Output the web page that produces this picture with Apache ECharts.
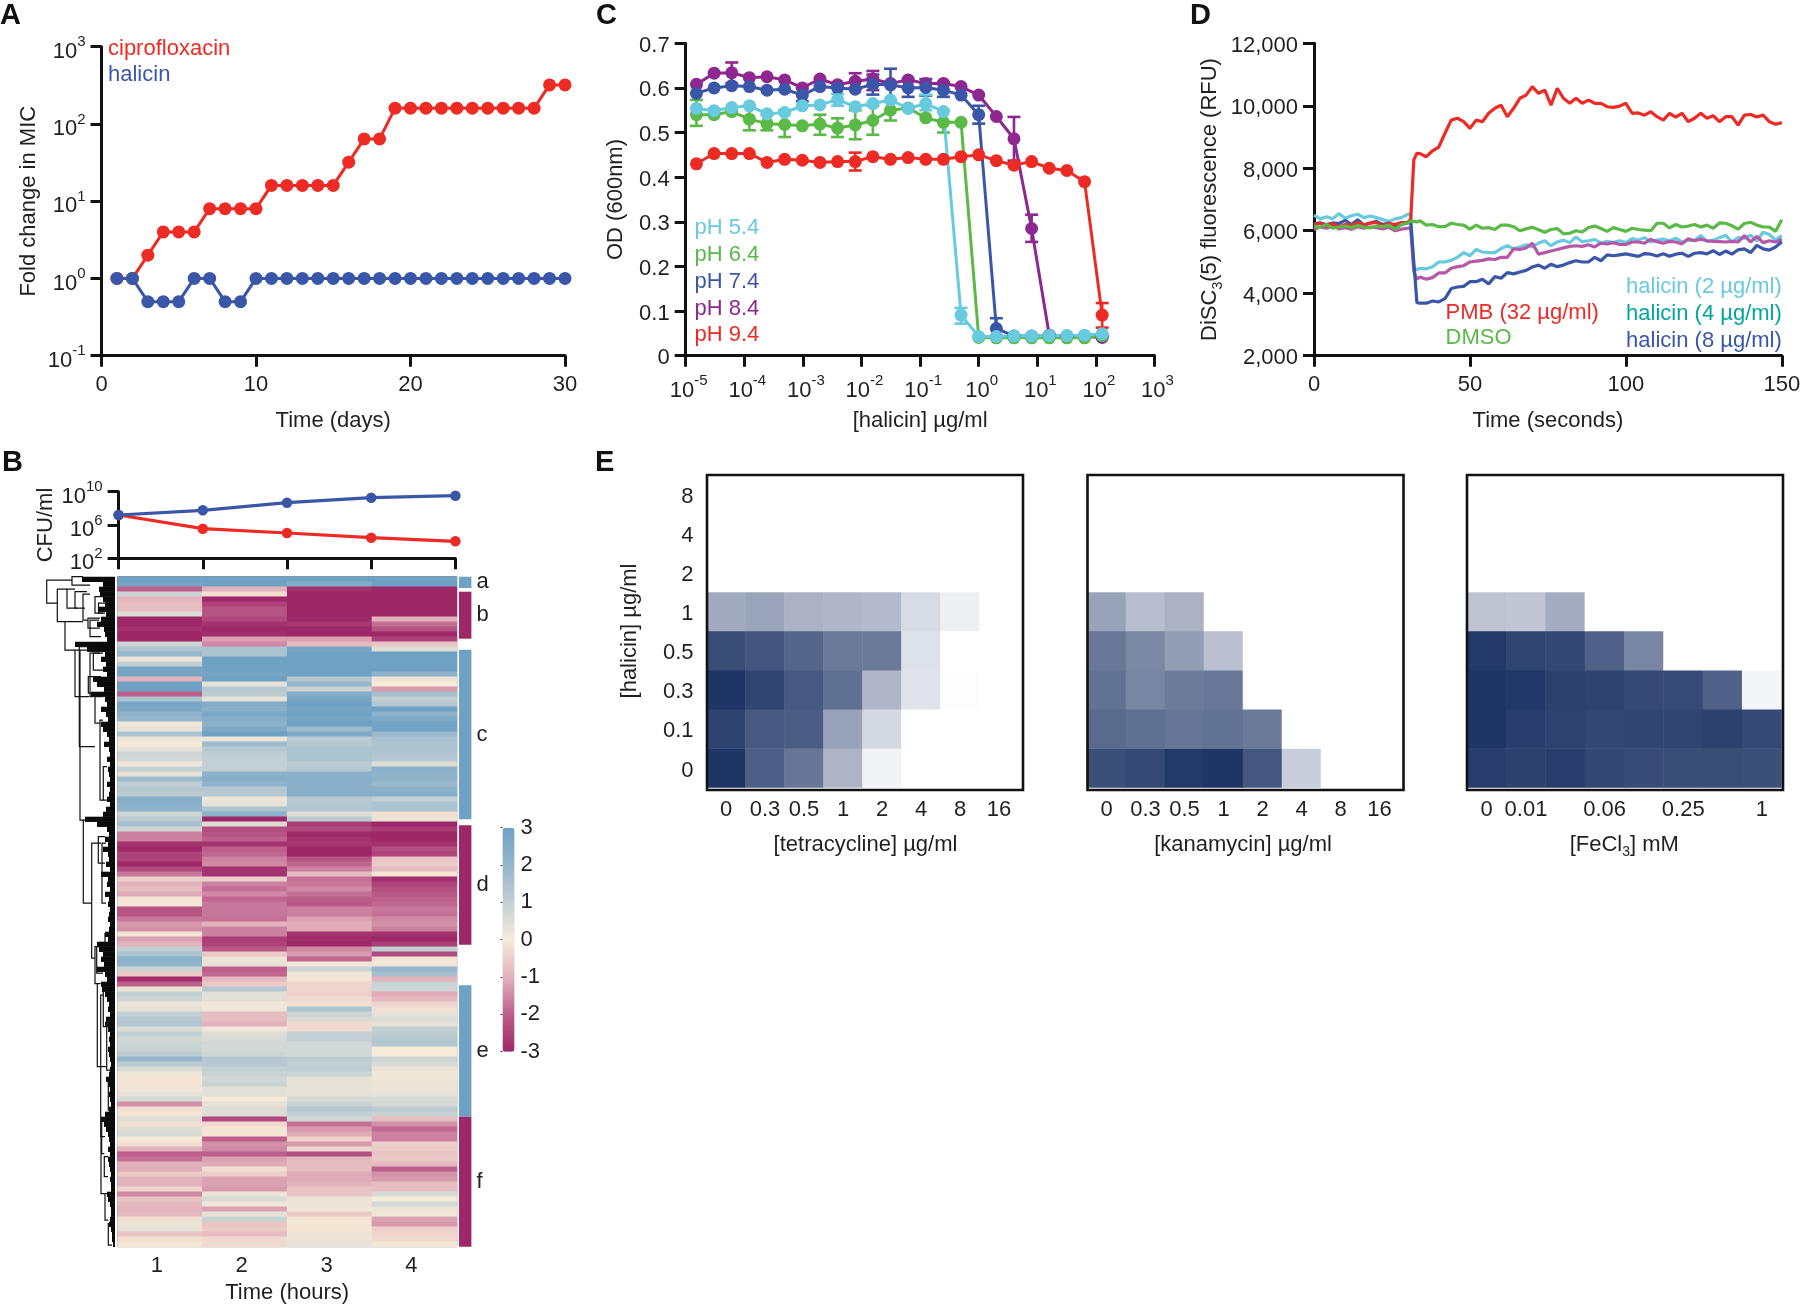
<!DOCTYPE html>
<html><head><meta charset="utf-8">
<style>html,body{margin:0;padding:0;background:#fff}#c{width:1800px;height:1305px}</style>
<script src="https://cdn.jsdelivr.net/npm/echarts@6/dist/echarts.min.js"></script>
</head><body><div id="c"></div>
<script>
// ---------- Panel A ----------
const days=[1,2,3,4,5,6,7,8,9,10,11,12,13,14,15,16,17,18,19,20,21,22,23,24,25,26,27,28,29,30];
const ciproFold=[1,1,2,4,4,4,8,8,8,8,16,16,16,16,16,32,64,64,160,160,160,160,160,160,160,160,160,160,320,320];
const halicinFold=[1,1,0.5,0.5,0.5,1,1,0.5,0.5,1,1,1,1,1,1,1,1,1,1,1,1,1,1,1,1,1,1,1,1,1];
// ---------- Panel B top ----------
const cfuHours=[1,2,3,4,5];
const cfuBlue=[1.6e7,5.8e7,4.8e8,1.9e9,3.3e9];
const cfuRed=[1.6e7,3.6e5,1.1e5,3e4,1.1e4];
// ---------- Panel B heatmap ----------
const heatHours=['1','2','3','4'];
const hour1=[3,2.8,-2,0.8,-1,-0.8,-0.8,0.5,-3,-3,-2.8,-3,-3,0.8,1.5,2,0.2,1,2.8,2.8,-1,3,3,-2,1.5,2.8,2.6,2.2,2,0.1,0.3,1.5,0.2,0,
.3,.8,.7,.1,1,.3,1.8,1.1,1.3,1.2,2.4,2.3,2.2,.8,1.2,1.6,.8,-1.6,-1.6,-2.8,-3,-2.5,-2.5,-3,-2.4,-1.7,-.5,-1,-.8,-1.1,-.1,-.1,-2.2,-2.2,
-1.7,-1.3,-1.4,-.1,-1.2,-1,1,1.5,2.3,2.1,.8,-.6,-2.9,-2,.2,1,.8,.2,.3,1,1.3,1.4,.5,1,.7,.8,.9,1.1,2,1.2,.6,.1,-.1,
-.1,.1,.3,.6,-1.4,-.2,-.1,.5,-.2,.5,.6,0,-.2,-1,-2,-1.8,-1,-1.1,-.6,-1,-1,-.4,-1.5,-.7,-.9,-1,-.9,-.2,.2,.3,-.7,-.2,-.1];
const hour2=[3,3,-1,-0.2,-3,-2.5,-2.2,-2.2,-2.4,-2.8,-3,-2.9,-1.2,-1.5,1.5,1.5,3,3,3,2.8,3,0.3,1.3,1.2,0.3,2.5,2.3,2.7,2.4,2.2,2.6,3,0.2,1.8,
1.3,1.1,1,1,1,2.2,2.4,2.1,1.3,1.3,.2,.3,1.5,2.2,-3,.5,-2.3,-2.2,-2,-2.8,-2,-1.9,-1.6,-1.5,-2.8,-2.8,-.5,-1.6,-1.8,-1.5,-1.9,-1.7,-1.7,-1.7,
-1.8,-1,-1.6,-1.6,-2.6,-2.5,-2.1,-.6,.2,.3,-2,-1.9,-.9,-.6,1.3,.4,.4,.1,.1,-.8,-.8,-1,.1,.5,.6,.7,.7,.8,1.3,1.3,1,.9,.7,
.9,.4,.4,0,.3,.5,.5,-2.4,-.3,-.1,-.1,-2,-1.4,-1.5,-2,-1.2,-1.1,-.2,-.5,-1.2,-1.2,-1.3,.2,.6,.1,-1.2,.3,.9,-.7,-.6,-.8,-.3,-.3];
const hour3=[3,2.5,-2.8,-3,-3,-3,-3,-3,-3,-2.7,-3,-3,-1.2,-.9,2.8,3,3,3,3,3,1.3,2,.8,2.5,2.7,3,2.8,3,2.8,3,1.8,2.6,1.2,1.3,
1.5,1.5,1.5,1.2,1.3,2.2,2.3,2.3,2.3,2.4,1.3,1.3,1.4,.5,1.2,-2.6,-2.4,-3,-2.8,-2.7,-3,-3,-2.2,-1.9,-1.6,-.9,-1.8,-1.7,-1.5,-1.8,-2,-2.1,-1.6,-1.6,
-1.2,-1.1,-1.1,-2.8,-2.9,-3,-1.5,-1.3,-1.9,.1,.8,.1,-.1,-.4,-.4,-.5,-.3,-.2,1.5,.8,.6,-.3,-.3,1,1,.7,.7,.7,1.2,1,1.1,.8,.3,
.3,.3,.3,.6,.9,1.3,1,.7,-1.8,-1.3,-1.1,-.4,-1.3,-.4,-2.3,-.9,-.8,-.8,-1.1,-1.1,-1,-.7,-.7,.2,.2,.1,-.6,-.1,-.1,-.1,.2,.2,.3];
const hour4=[3,3,-3,-3,-3,-3,-3,-3,-1,-1.8,-2.2,-3,-2.5,-.7,.5,3,3,3,3,2.2,.2,0,-1.3,1.6,1,1.3,3,2.2,2.6,2.9,2.9,1.8,1.6,1.5,
1.5,1.4,1.3,.5,2.3,2.1,2.2,1.9,2.3,2.4,1,1.5,1.5,-.2,.2,-3,-2.6,-3,-3,-2.8,-2.3,-2.5,-.7,-.6,-.8,-.1,-2.9,-2.5,-2.3,-2.1,-2,-1.9,-1.7,-1.8,
-1.5,-1.4,-1.6,-2.8,-3,-2.6,1,-2.4,-.1,.1,2,1.6,-1,.9,.8,-1.1,-.9,-.4,-.2,.3,.5,.3,1,1.1,1.3,1.4,0,0,.8,.6,.2,.1,.1,
.2,.2,.3,.6,.7,1.2,.9,-.8,-1.4,-1.9,-1.6,-1.6,-.5,-.6,-.7,-.6,-.9,-2,-1.4,-1.3,-.8,-.8,.6,0,.7,.2,.1,-1.2,-1.3,-.5,-.4,-.3,-.1];
const clusterNames=['a','b','c','d','e','f'];
const clusterStart=[0,3,14.6,49.7,81.7,108];
const clusterEnd=[2.26,12.4,48.5,73.6,108,134];
const clusterSign=[1,-1,1,-1,1,-1];
// dendrogram: [height, rowTop, rowBottom, childHeightTop, childHeightBottom]
const dendroBranches=[[68.3,.7,5.3,43,57.7],[43,0,1.7,32,25],[57.7,2.5,9,48,50],[48,2.5,6.3,40,38],[50,9,14.7,32,40],[40,3,6.3,28,30],[32,3.5,8.7,25,27],[27,8.3,10.3,15,15],[25,8.7,12,16,14],[20,4,7.3,12,12],[16.5,5.3,7.3,10,10],
[40,14.7,24,35.7,26],[35.7,14,34,25,20],[35,14.7,48.7,25,31.7],[31.7,48.7,65.3,10,23.3],[23.3,53.3,76.3,14,20],[25,15.3,24,15,22],[20,24,29.3,12,15],[15,28.7,44.7,12,11.7],[11.7,38,44.7,8,8],[21.7,15.3,18.7,12,12],[26.7,20,23.3,14,14],[16.7,52,57.3,10,10],[13,53.3,65.3,9,9],
[20,74,81.4,13,17.7],[17.7,81.4,98,14.3,8.3],[14.3,83.7,112,11.7,13.3],[11.7,82.7,90,7,7],[13.3,108.4,115.4,9,10.7],[10.7,116,120,7,7],[10,123.4,128.7,6,6.7],[6.7,129.4,133.7,4,3],[8.3,88.7,98.7,5,5],[6.7,100.7,106.7,4,4],[18.3,74,79.3,12,12],[10,71.4,74,7,7],[14,112,123.4,10,10]];
const leafDepth=[33,12,16,15,12,10,16,9,14,18,11,10,8,40,28,10,14,9,12,8,22,18,11,24,10,8,14,9,7,14,12,8,6,11,6,5,8,5,7,6,5,8,5,6,8,5,9,12,30,18,8,6,10,7,12,7,6,9,5,14,7,8,5,10,6,7,5,6,7,5,6,10,7,18,16,12,14,11,18,10,8,14,13,10,8,6,7,5,9,10,7,5,6,5,7,6,5,4,5,6,9,7,5,6,5,4,6,10,14,11,9,7,6,5,7,5,7,6,5,4,5,4,4,8,7,5,4,4,5,6,4,3,3,2];
// ---------- Panel C ----------
const doses=[1.526e-5,3.052e-5,6.104e-5,1.221e-4,2.441e-4,4.883e-4,9.766e-4,1.953e-3,3.906e-3,7.813e-3,1.563e-2,3.125e-2,6.25e-2,0.125,0.25,0.5,1,2,4,8,16,32,64,128];
const ph94=[.43,.453,.453,.453,.433,.44,.438,.433,.435,.435,.446,.44,.444,.44,.44,.446,.45,.437,.427,.435,.42,.415,.39,.091];
const ph84=[.608,.633,.634,.623,.625,.618,.6,.62,.607,.615,.62,.61,.618,.61,.61,.603,.584,.536,.486,.285,.046,.043,.043,.041];
const ph74=[.588,.6,.605,.603,.595,.597,.584,.603,.6,.597,.608,.607,.6,.601,.595,.584,.54,.061,.044,.044,.044,.044,.044,.044];
const ph64=[.54,.54,.547,.53,.52,.518,.515,.519,.51,.517,.527,.55,.555,.533,.523,.523,.041,.04,.04,.04,.04,.04,.04,.045];
const ph54=[.554,.549,.556,.56,.542,.545,.56,.562,.574,.558,.565,.573,.554,.565,.547,.091,.043,.043,.044,.044,.045,.045,.046,.049];
// error bars: [dose index, low, high]
const err94=[[9,.415,.455],[23,.063,.118]];
const err84=[[2,.61,.657],[9,.6,.633],[10,.595,.638],[18,.437,.535],[19,.255,.316]];
const err74=[[6,.57,.6],[10,.585,.63],[11,.57,.643],[12,.58,.62],[13,.583,.62],[14,.58,.612],[16,.52,.56],[17,.045,.084]];
const err64=[[0,.515,.573],[3,.505,.56],[4,.505,.54],[5,.49,.55],[7,.495,.54],[8,.49,.532],[9,.485,.55],[10,.495,.56],[11,.527,.57],[14,.5,.55]];
const err54=[[8,.56,.587],[13,.55,.585],[15,.072,.107]];
// ---------- Panel D ----------
const seconds=[0,2,4,6,8,10,12,14,16,18,20,22,24,26,28,30,31,32,33,34,
36,38,40,42,44,46,48,50,52,54,56,58,60,62,64,66,68,70,72,74,76,78,80,82,84,86,88,90,92,94,96,98,100,
102,104,106,108,110,112,114,116,118,120,122,124,126,128,130,132,134,136,138,140,142,144,146,148,150];
const pmb=[6180,6250,6150,6230,6120,6200,6180,6260,6190,6240,6270,6160,6230,6200,6260,6270,6350,8270,8480,8470,
8370,8560,8680,9120,9540,9600,9490,9280,9540,9490,9760,9920,10020,9650,9920,10240,10340,10610,10400,10500,10020,10560,10240,10080,10240,10080,10180,10080,10080,9970,9950,9990,10080,
9760,9770,9700,9810,9650,9540,9760,9640,9760,9490,9600,9760,9600,9680,9490,9650,9650,9380,9700,9720,9640,9700,9490,9410,9460];
const dmso=[6150,6100,6200,6080,6120,6150,6100,6170,6120,6090,6150,6130,6180,6050,6200,6250,6310,6300,6280,6320,
6180,6200,6130,6130,6240,6200,6180,6050,6180,6080,6100,6040,6180,6180,6130,6000,6060,6110,6030,5950,6040,6070,5900,5920,6000,5960,6100,6150,6070,5980,6100,6040,5980,
6080,6040,6020,6000,6240,6240,6090,6200,6120,6150,6200,6120,6180,6080,6250,6240,6160,6050,6230,6270,6180,6120,6120,5980,6350];
const hal2=[6500,6380,6450,6380,6550,6400,6480,6530,6420,6470,6420,6360,6300,6380,6420,6520,6550,4800,4750,4800,
4780,4850,5000,5000,5050,5150,5300,5200,5400,5320,5300,5300,5430,5520,5420,5480,5550,5480,5600,5680,5520,5640,5700,5620,5800,5650,5680,5720,5600,5660,5620,5680,5620,
5750,5700,5780,5640,5700,5730,5680,5760,5640,5700,5690,5850,5650,5700,5780,5850,5640,5780,5760,5860,5680,5950,5880,5700,5850];
const hal4=[6050,6120,6080,6150,6060,6100,6050,6130,6080,6120,6100,6060,6110,6000,6050,6080,6100,4700,4450,4520,
4450,4500,4650,4650,4800,4850,4880,5000,5030,5050,5100,5080,5150,5150,5420,5400,5450,5600,5250,5300,5350,5400,5450,5500,5520,5500,5550,5480,5600,5580,5620,5560,5560,
5640,5640,5600,5720,5650,5600,5660,5640,5580,5740,5680,5730,5680,5660,5650,5640,5660,5640,5840,5640,5820,5620,5680,5640,5730];
const hal8=[6220,6250,6200,6250,6230,6330,6200,6350,6180,6250,6300,6200,6250,6100,6200,6250,6280,5000,3700,3680,
3680,3750,3720,3830,4150,4200,4220,4370,4370,4450,4300,4530,4480,4660,4620,4680,4730,4840,4900,4800,4930,4850,4900,4980,5040,5000,5000,5150,5040,5230,5200,5230,5260,
5220,5180,5270,5250,5190,5260,5180,5250,5280,5180,5280,5300,5260,5360,5240,5350,5250,5390,5420,5300,5530,5420,5380,5480,5650];
// ---------- Panel E (rows from halicin 0 upward) ----------
const halicinLevels=['0','0.1','0.3','0.5','1','2','4','8'];
const tetLabels=['0','0.3','0.5','1','2','4','8','16'];
const kanLabels=['0','0.3','0.5','1','2','4','8','16'];
const feLabels=['0','0.01','','0.06','','0.25','','1'];
const tetGrowth=[[1,.79,.68,.37,.06,0,0,0],[.93,.82,.8,.46,.19,0,0,0],[1,.92,.82,.71,.36,.14,.01,0],[.88,.84,.76,.66,.66,.15,0,0],[.42,.45,.38,.36,.34,.18,.08,0],[0,0,0,0,0,0,0,0],[0,0,0,0,0,0,0,0],[0,0,0,0,0,0,0,0]];
const kanGrowth=[[.87,.9,.98,1,.83,.25,0,0],[.74,.71,.68,.7,.66,0,0,0],[.7,.6,.65,.67,0,0,0,0],[.67,.59,.48,.31,0,0,0,0],[.46,.32,.38,0,0,0,0,0],[0,0,0,0,0,0,0,0],[0,0,0,0,0,0,0,0],[0,0,0,0,0,0,0,0]];
const feGrowth=[[.96,.94,.96,.91,.89,.88,.88,.87],[1,.96,.93,.91,.92,.92,.94,.9],[1,.99,.94,.93,.9,.89,.78,.05],[.98,.92,.91,.78,.6,0,0,0],[.29,.28,.41,0,0,0,0,0],[0,0,0,0,0,0,0,0],[0,0,0,0,0,0,0,0],[0,0,0,0,0,0,0,0]];

const FONT='"Liberation Sans",Arial,sans-serif', INK='#231f20';
const RED='#ee2a24',BLUE='#3a56a8',GREEN='#5ab947',SKY='#67cadf',PURPLE='#8e278f',MAG='#b657a8',TEAL='#00a79d';
const richSup={b:{fontSize:22,color:INK,fontFamily:FONT,lineHeight:28,verticalAlign:'bottom'},s:{fontSize:15,color:INK,fontFamily:FONT,lineHeight:28,verticalAlign:'top'}};
const powLabel=v=>'{b|10}{s|'+Math.round(Math.log10(v))+'}';
const lbl=(m,pad)=>({color:INK,fontFamily:FONT,fontSize:22,margin:m===undefined?16:m,hideOverlap:false,showMinLabel:true,showMaxLabel:true,padding:pad||[0,0,0,0]});
const Y_PAD=[4,0,0,0];
const lowered=(o)=>Object.assign(o,{padding:[0,0,0,0],verticalAlign:'top',lineHeight:5});
const axisBase=()=>({axisLine:{show:true,onZero:false,lineStyle:{color:'#111',width:3}},axisTick:{show:true,length:11,inside:false,lineStyle:{color:'#111',width:3}},minorTick:{show:false},splitLine:{show:false},minorSplitLine:{show:false},
 nameLocation:'middle',nameTextStyle:{color:INK,fontFamily:FONT,fontSize:22}});
const hiddenAxis=(o)=>Object.assign({show:false,splitLine:{show:false},axisLine:{show:false},axisTick:{show:false},axisLabel:{show:false}},o);

const grids=[
 {left:101.5,top:46.7,width:463.5,height:309},   //0 A
 {left:685.7,top:43.3,width:468.8,height:312.4}, //1 C
 {left:1314,top:43.3,width:467.8,height:312.4},  //2 D
 {left:118.6,top:491.7,width:336.8,height:66.6}, //3 B top
 {left:117.5,top:576.7,width:339.3,height:670,show:true,borderColor:'#777',borderWidth:1,backgroundColor:'transparent'}, //4 heat
 {left:459,top:576.7,width:12.4,height:670},     //5 clusters
 {left:45,top:576.7,width:70,height:670},        //6 dendro
 {left:502.5,top:827.7,width:12,height:224},     //7 colorbar
 {left:706.5,top:474.5,width:312,height:313},    //8 tet
 {left:1087,top:474.5,width:312,height:313},     //9 kan
 {left:1467,top:474.5,width:314.5,height:313}    //10 fe
].map(g=>Object.assign(g,{outerBoundsMode:'none',containLabel:false}));
const xAxes=[
 Object.assign(axisBase(),{gridIndex:0,type:'value',min:0,max:30,interval:10,name:'Time (days)',nameGap:54,axisLabel:lbl(18)}),
 Object.assign(axisBase(),{gridIndex:1,type:'log',logBase:10,min:1e-5,max:1e3,name:'[halicin] µg/ml',nameGap:54,axisLabel:Object.assign(lbl(18,[0,0,0,6]),{formatter:powLabel,rich:richSup})}),
 Object.assign(axisBase(),{gridIndex:2,type:'value',min:0,max:150,interval:50,name:'Time (seconds)',nameGap:54,axisLabel:lbl(18)}),
 Object.assign(axisBase(),{gridIndex:3,type:'value',min:1,max:5,interval:1,axisLabel:{show:false}}),
 {gridIndex:4,type:'category',data:heatHours,position:'bottom',axisLine:{show:false},axisTick:{show:false},splitLine:{show:false},axisLabel:lbl(8,[0,6,0,0]),name:'Time (hours)',nameLocation:'middle',nameGap:35,nameTextStyle:{color:INK,fontFamily:FONT,fontSize:22}},
 hiddenAxis({gridIndex:5,type:'value',min:0,max:1}),
 hiddenAxis({gridIndex:6,type:'value',min:0,max:70,inverse:true}),
 hiddenAxis({gridIndex:7,type:'value',min:0,max:1}),
];
const yAxes=[
 Object.assign(axisBase(),{gridIndex:0,type:'log',logBase:10,min:0.1,max:1000,name:'Fold change in MIC',nameGap:62,axisLabel:Object.assign(lbl(16,Y_PAD),{formatter:powLabel,rich:richSup})}),
 Object.assign(axisBase(),{gridIndex:1,type:'value',min:0,max:0.7,interval:0.1,name:'OD (600nm)',nameGap:59,axisLabel:lowered(lbl(16))}),
 Object.assign(axisBase(),{gridIndex:2,type:'value',min:2000,max:12000,interval:2000,name:'{n|DiSC}{s|3}{n|(5) fluorescence (RFU)}',nameGap:89,nameTextStyle:{rich:{n:{fontSize:22,color:INK,fontFamily:FONT,lineHeight:26,verticalAlign:'top'},s:{fontSize:14,color:INK,fontFamily:FONT,lineHeight:26,verticalAlign:'bottom'}}},axisLabel:Object.assign(lowered(lbl(16)),{formatter:v=>v.toLocaleString('en-US')})}),
 Object.assign(axisBase(),{gridIndex:3,type:'log',logBase:10,min:1e2,max:1e10,interval:4,name:'CFU/ml',nameGap:62,axisLabel:Object.assign(lbl(16,Y_PAD),{formatter:powLabel,rich:richSup})}),
 hiddenAxis({gridIndex:4,type:'category',inverse:true,data:hour1.map((_,i)=>String(i))}),
 hiddenAxis({gridIndex:5,type:'value',min:0,max:134,inverse:true}),
 hiddenAxis({gridIndex:6,type:'value',min:0,max:134,inverse:true}),
 {gridIndex:7,type:'value',min:-3,max:3,interval:1,position:'right',axisLine:{show:false},splitLine:{show:false},axisTick:{show:true,inside:true,length:2,lineStyle:{color:'#333',width:1}},axisLabel:Object.assign(lbl(6),{formatter:v=>String(v)})},
];
function addE(idx,labels,name,isRich,showY,namePad){
 xAxes.push({gridIndex:idx,type:'category',data:labels,axisLine:{show:false},axisTick:{show:false},splitLine:{show:false},axisLabel:Object.assign(lbl(11),{interval:0}),name,nameLocation:'middle',nameGap:46,
  nameTextStyle:isRich?{rich:{n:{fontSize:22,color:INK,fontFamily:FONT,lineHeight:26,verticalAlign:'top'},s:{fontSize:14,color:INK,fontFamily:FONT,lineHeight:26,verticalAlign:'bottom'}}}:{color:INK,fontFamily:FONT,fontSize:22,padding:namePad||0}});
 yAxes.push({gridIndex:idx,type:'category',data:halicinLevels,axisLine:{show:false},axisTick:{show:false},splitLine:{show:false},axisLabel:Object.assign(lowered(lbl(13)),{show:showY,interval:0}),name:showY?'[halicin] µg/ml':'',nameLocation:'middle',nameGap:66,nameTextStyle:{color:INK,fontFamily:FONT,fontSize:22}});
}
addE(8,tetLabels,'[tetracycline] µg/ml',false,true,[0,0,0,6]);
addE(9,kanLabels,'[kanamycin] µg/ml',false,false);
addE(10,feLabels,'{n|[FeCl}{s|3}{n|] mM}',true,false);

const pairs=(xs,ys)=>xs.map((x,i)=>[x,ys[i]]);
function lineS(g,xs,ys,color,size,w){return {type:'line',xAxisIndex:g,yAxisIndex:g,data:pairs(xs,ys),color,showSymbol:size>0,symbol:size>0?'circle':'none',symbolSize:size,lineStyle:{color,width:w},itemStyle:{color},z:3,silent:true,clip:false}}
function errS(errs,color){return {type:'custom',xAxisIndex:1,yAxisIndex:1,z:3,silent:true,clip:false,encode:{x:0,y:[1,2]},
 data:errs.map(e=>[doses[e[0]],e[1],e[2]]),
 renderItem:(p,api)=>{const a=api.coord([api.value(0),api.value(1)]),b=api.coord([api.value(0),api.value(2)]),c=6.5;
  const st={stroke:color,lineWidth:2.6,fill:null};
  return {type:'group',children:[{type:'line',shape:{x1:a[0],y1:a[1],x2:b[0],y2:b[1]},style:st},{type:'line',shape:{x1:a[0]-c,y1:a[1],x2:a[0]+c,y2:a[1]},style:st},{type:'line',shape:{x1:b[0]-c,y1:b[1],x2:b[0]+c,y2:b[1]},style:st}]};}}}
const series=[];
const heatIdx=[],eIdx=[];
// A
series.push(lineS(0,days,ciproFold,RED,13,3),lineS(0,days,halicinFold,BLUE,13,3));
// C
[[ph94,err94,RED],[ph84,err84,PURPLE],[ph74,err74,BLUE],[ph64,err64,GREEN],[ph54,err54,SKY]].forEach(([v,e,c])=>{series.push(errS(e,c),lineS(1,doses,v,c,13,3));});
// D
[[hal2,SKY],[hal4,MAG],[hal8,BLUE],[pmb,RED],[dmso,GREEN]].forEach(([v,c])=>series.push(lineS(2,seconds,v,c,0,3.2)));
// B top
series.push(lineS(3,cfuHours,cfuRed,RED,10.5,3.2),lineS(3,cfuHours,cfuBlue,BLUE,10.5,3.2));
// B heat
const heatData=[];[hour1,hour2,hour3,hour4].forEach((h,c)=>h.forEach((v,r)=>heatData.push([c,r,v])));
heatIdx.push(series.length);
series.push({type:'heatmap',xAxisIndex:4,yAxisIndex:4,data:heatData,silent:true,itemStyle:{borderWidth:0},progressive:0,emphasis:{disabled:true}});
// clusters
series.push({type:'custom',xAxisIndex:5,yAxisIndex:5,silent:true,clip:false,encode:{y:[0,1]},data:clusterNames.map((n,i)=>[clusterStart[i],clusterEnd[i],clusterSign[i]]),
 renderItem:(p,api)=>{const a=api.coord([0,api.value(0)]),b=api.coord([1,api.value(1)]);
  return {type:'group',children:[{type:'rect',shape:{x:a[0],y:a[1],width:b[0]-a[0],height:b[1]-a[1]},style:{fill:api.value(2)>0?'#6fa1c4':'#9e2767'}},
  {type:'text',style:{text:clusterNames[p.dataIndex],x:b[0]+5,y:(a[1]+b[1])/2,textAlign:'left',textVerticalAlign:'middle',font:'22px '+FONT,fill:INK}}]};}});
// dendro
series.push({type:'custom',xAxisIndex:6,yAxisIndex:6,silent:true,clip:false,encode:{x:0,y:1},data:leafDepth.map((d,r)=>[d,r]),
 renderItem:(p,api)=>{const a=api.coord([api.value(0),api.value(1)]),b=api.coord([0,api.value(1)+1.05]);return {type:'rect',shape:{x:a[0],y:a[1],width:b[0]-a[0],height:b[1]-a[1]},style:{fill:'#0a0a0a'}};}});
series.push({type:'custom',xAxisIndex:6,yAxisIndex:6,silent:true,clip:false,encode:{x:0,y:[1,2]},data:dendroBranches,
 renderItem:(p,api)=>{const pts=[api.coord([api.value(3),api.value(1)]),api.coord([api.value(0),api.value(1)]),api.coord([api.value(0),api.value(2)]),api.coord([api.value(4),api.value(2)])];return {type:'polyline',shape:{points:pts},style:{stroke:'#111',lineWidth:1.2,fill:null}};}});
// E
[[8,tetGrowth],[9,kanGrowth],[10,feGrowth]].forEach(([g,m])=>{const d=[];m.forEach((row,r)=>row.forEach((v,c)=>d.push([c,r,v])));eIdx.push(series.length);
 series.push({type:'heatmap',xAxisIndex:g,yAxisIndex:g,data:d,silent:true,progressive:0,emphasis:{disabled:true}});});
const ramp=['#9e2767','#bc5f8b','#e2b3bc','#f6ead8','#c3d0d3','#95b6cc','#6fa1c4'];
const T=(text,x,y,color,align,size,weight)=>({type:'text',x,y,z:50,silent:true,style:{text,fill:color,font:(weight?weight+' ':'')+(size||22)+'px '+FONT,textAlign:align||'left',textVerticalAlign:'middle'}});
const box=(x,y,w,h)=>({type:'rect',z:60,silent:true,shape:{x,y,width:w,height:h},style:{fill:'none',stroke:'#111',lineWidth:2.6}});
const chart=echarts.init(document.getElementById('c'),null,{renderer:'canvas'});
chart.setOption({animation:false,backgroundColor:'#fff',tooltip:{show:false},grid:grids,xAxis:xAxes,yAxis:yAxes,series,
 visualMap:[
  {type:'continuous',seriesIndex:heatIdx,min:-3,max:3,dimension:2,show:true,left:502.5,top:827.7,itemWidth:12,itemHeight:224,padding:0,calculable:false,realtime:false,text:null,showLabel:false,inRange:{color:ramp},borderColor:'#777',hoverLink:false},
  {type:'continuous',seriesIndex:eIdx,min:0,max:1,dimension:2,show:false,inRange:{color:['#ffffff','#1f3565']}}
 ],
 graphic:{elements:[
  T('A',0,16,'#111','left',29,'bold'),T('B',2,463,'#111','left',29,'bold'),T('C',596,16,'#111','left',29,'bold'),T('D',1190,16,'#111','left',29,'bold'),T('E',595,463,'#111','left',29,'bold'),
  T('ciprofloxacin',108,48.7,RED),T('halicin',108,75.3,BLUE),
  T('pH 5.4',694.5,228,SKY),T('pH 6.4',694.5,255,GREEN),T('pH 7.4',694.5,282,BLUE),T('pH 8.4',694.5,308.7,PURPLE),T('pH 9.4',694.5,335.3,RED),
  T('halicin (2 µg/ml)',1781.8,287,SKY,'right'),T('halicin (4 µg/ml)',1781.8,314,TEAL,'right'),T('halicin (8 µg/ml)',1781.8,341,BLUE,'right'),
  T('PMB (32 µg/ml)',1445.6,312.7,RED),T('DMSO',1445.6,338.3,GREEN),
  box(707,475,316,315),box(1087.5,475,316,315),box(1467,475,316,315)
 ]}
});
</script></body></html>
